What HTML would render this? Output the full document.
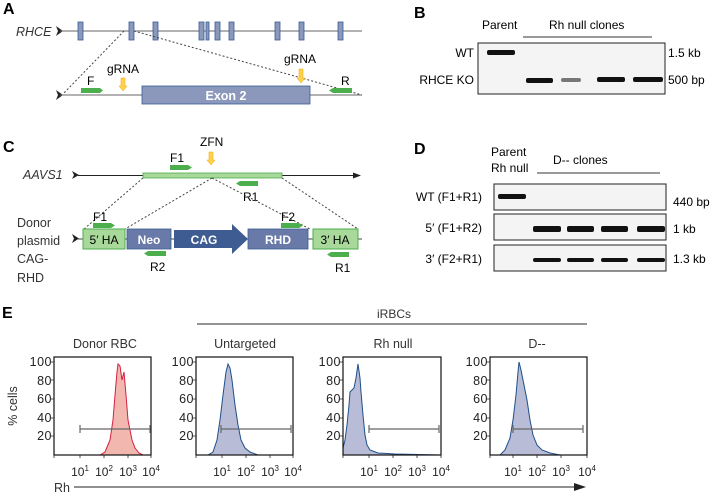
<!DOCTYPE html>
<html><head><meta charset="utf-8"><style>
body{margin:0;background:#fff}
svg{display:block;font-family:"Liberation Sans",sans-serif}
</style></head><body>
<svg width="715" height="495" viewBox="0 0 715 495" xmlns="http://www.w3.org/2000/svg">
<defs>
<marker id="ah" markerWidth="8" markerHeight="6" refX="7" refY="3" orient="auto"><path d="M0,0 L8,3 L0,6 z" fill="#222"/></marker>
</defs>
<!-- Panel A -->
<text x="3" y="14" font-size="16" font-weight="bold">A</text>
<text x="16" y="36" font-size="12.5" font-style="italic" fill="#333">RHCE</text>
<path d="M56,26 L63,31 L56,36 L58,31z" fill="#222"/>
<line x1="60" y1="31" x2="362" y2="31" stroke="#666" stroke-width="1"/>
<g fill="#8b98bc" stroke="#3a5c94" stroke-width="0.8">
<rect x="78" y="22" width="5" height="18"/><rect x="129" y="22" width="5" height="18"/><rect x="153" y="22" width="5" height="18"/><rect x="199" y="22" width="5" height="18"/><rect x="206" y="22" width="3" height="18"/><rect x="215" y="22" width="5" height="18"/><rect x="229" y="22" width="5" height="18"/><rect x="275" y="22" width="5" height="18"/><rect x="299" y="22" width="5" height="18"/><rect x="338" y="22" width="5" height="18"/>
</g>
<path d="M56,90 L63,95 L56,100 L58,95z" fill="#222"/>
<line x1="60" y1="95" x2="362" y2="95" stroke="#666"/>
<g stroke="#444" stroke-dasharray="2,2" fill="none"><line x1="124" y1="31" x2="63" y2="94"/><line x1="134" y1="31" x2="362" y2="95"/></g>
<rect x="142" y="86" width="168" height="18" fill="#8b98bc" stroke="#3a5c94" stroke-width="0.8"/>
<text x="226" y="100" font-size="12.5" font-weight="bold" fill="#fff" text-anchor="middle">Exon 2</text>
<path d="M81,88 L100,88 L103,90.5 L100,93 L81,93z" fill="#4cae4c"/>
<text x="87" y="85" font-size="12">F</text>
<path d="M352,88 L333,88 L329,90.5 L333,93 L352,93z" fill="#4cae4c"/>
<text x="341" y="85" font-size="12">R</text>
<text x="107" y="73" font-size="12">gRNA</text>
<text x="284" y="63" font-size="12">gRNA</text>
<path d="M121,78 L125,78 L125,86 L127,86 L123,91 L119,86 L121,86z" fill="#ffd24d" stroke="#f0a500" stroke-width="0.5"/>
<path d="M299,69 L303,69 L303,78 L305,78 L301,83 L297,78 L299,78z" fill="#ffd24d" stroke="#f0a500" stroke-width="0.5"/>

<!-- Panel B -->
<text x="414" y="18" font-size="16" font-weight="bold">B</text>
<text x="482" y="29" font-size="12">Parent</text>
<text x="549" y="29" font-size="12">Rh null clones</text>
<line x1="523" y1="37" x2="652" y2="37" stroke="#333"/>
<rect x="478" y="43" width="187" height="51" fill="#f4f4f4" stroke="#222" stroke-width="1"/>
<text x="474" y="57" font-size="12" text-anchor="end">WT</text>
<text x="474" y="84" font-size="12" text-anchor="end">RHCE KO</text>
<text x="668" y="57" font-size="12">1.5 kb</text>
<text x="668" y="84" font-size="12">500 bp</text>
<g fill="#111"><rect x="487" y="50" width="28" height="5" rx="2"/><rect x="526" y="78" width="27" height="5" rx="2"/><rect x="597" y="77" width="28" height="5" rx="2"/><rect x="633" y="77" width="30" height="5" rx="2"/></g>
<rect x="561" y="78" width="20" height="4" rx="2" fill="#777"/>

<!-- Panel C -->
<text x="3" y="152" font-size="16" font-weight="bold">C</text>
<text x="200" y="146" font-size="12">ZFN</text>
<path d="M209,152 L213,152 L213,160 L215,160 L211,165 L207,160 L209,160z" fill="#ffd24d" stroke="#f0a500" stroke-width="0.5"/>
<text x="23" y="179" font-size="12.5" font-style="italic" fill="#333">AAVS1</text>
<path d="M72,171 L79,175 L72,179 L74,175z" fill="#222"/>
<line x1="78" y1="175.5" x2="360" y2="175.5" stroke="#222" marker-end="url(#ah)"/>
<rect x="143" y="173" width="139" height="5" fill="#a8d89a" stroke="#4cae4c" stroke-width="0.8"/>
<path d="M170,165 L188,165 L192,167.5 L188,170 L170,170z" fill="#4cae4c"/>
<text x="170" y="162" font-size="12">F1</text>
<path d="M258,181 L240,181 L236,183.5 L240,186 L258,186z" fill="#4cae4c"/>
<text x="243" y="201" font-size="12">R1</text>
<g stroke="#444" stroke-dasharray="2,2" fill="none"><line x1="143" y1="178" x2="84" y2="229"/><line x1="212" y1="178" x2="125" y2="229"/><line x1="212" y1="178" x2="310" y2="229"/><line x1="282" y1="178" x2="358" y2="229"/></g>
<g font-size="12.5" fill="#333"><text x="17" y="227">Donor</text><text x="17" y="245">plasmid</text><text x="17" y="263">CAG-</text><text x="17" y="282">RHD</text></g>
<path d="M72,234 L79,238.5 L72,243 L74,238.5z" fill="#222"/>
<line x1="78" y1="239" x2="362" y2="239" stroke="#444"/>
<rect x="83" y="229" width="42" height="20" fill="#a8d89a" stroke="#4cae4c"/>
<text x="104" y="244" font-size="12" text-anchor="middle">5′ HA</text>
<rect x="127" y="229" width="44" height="20" fill="#6a7aa8" stroke="#3a5c94" stroke-width="0.8"/>
<text x="149" y="244" font-size="12" font-weight="bold" fill="#fff" text-anchor="middle">Neo</text>
<path d="M174,230 L232,230 L232,224 L248,239 L232,254 L232,248 L174,248z" fill="#3f5c92"/>
<text x="204" y="244" font-size="12" font-weight="bold" fill="#fff" text-anchor="middle">CAG</text>
<rect x="248" y="229" width="60" height="20" fill="#6a7aa8" stroke="#3a5c94" stroke-width="0.8"/>
<text x="278" y="244" font-size="12" font-weight="bold" fill="#fff" text-anchor="middle">RHD</text>
<rect x="313" y="229" width="45" height="20" fill="#a8d89a" stroke="#4cae4c"/>
<text x="335" y="244" font-size="12" text-anchor="middle">3′ HA</text>
<path d="M93,223 L111,223 L115,225.5 L111,228 L93,228z" fill="#4cae4c"/>
<text x="93" y="221" font-size="12">F1</text>
<path d="M281,223 L299,223 L303,225.5 L299,228 L281,228z" fill="#4cae4c"/>
<text x="281" y="221" font-size="12">F2</text>
<path d="M166,251 L148,251 L144,253.5 L148,256 L166,256z" fill="#4cae4c"/>
<text x="150" y="271" font-size="12">R2</text>
<path d="M349,252 L331,252 L327,254.5 L331,257 L349,257z" fill="#4cae4c"/>
<text x="335" y="272" font-size="12">R1</text>

<!-- Panel D -->
<text x="414" y="154" font-size="16" font-weight="bold">D</text>
<text x="491" y="156" font-size="12">Parent</text>
<text x="491" y="172" font-size="12">Rh null</text>
<text x="553" y="164" font-size="12">D-- clones</text>
<line x1="537" y1="173" x2="660" y2="173" stroke="#333"/>
<g fill="#f4f4f4" stroke="#222"><rect x="494" y="184" width="172" height="26"/><rect x="494" y="214" width="172" height="26"/><rect x="494" y="245" width="172" height="26"/></g>
<g font-size="12" text-anchor="end"><text x="482" y="201">WT (F1+R1)</text><text x="482" y="232">5′ (F1+R2)</text><text x="482" y="263">3′ (F2+R1)</text></g>
<g font-size="12"><text x="673" y="206">440 bp</text><text x="673" y="233">1 kb</text><text x="673" y="263">1.3 kb</text></g>
<g fill="#111"><rect x="498" y="194" width="28" height="5" rx="2"/>
<rect x="533" y="226" width="28" height="6" rx="2"/><rect x="567" y="226" width="27" height="6" rx="2"/><rect x="601" y="226" width="27" height="6" rx="2"/><rect x="637" y="226" width="28" height="6" rx="2"/>
<rect x="533" y="258" width="28" height="4" rx="2"/><rect x="567" y="258" width="27" height="4" rx="2"/><rect x="601" y="258" width="27" height="4" rx="2"/><rect x="637" y="258" width="28" height="4" rx="2"/></g>

<!-- Panel E -->
<text x="2" y="318" font-size="16" font-weight="bold">E</text>
<line x1="197" y1="324" x2="587" y2="324" stroke="#555" stroke-width="1.2"/>
<text x="377" y="318" font-size="12" fill="#333">iRBCs</text>
<g font-size="12.5" fill="#333" text-anchor="middle"><text x="105" y="348">Donor RBC</text><text x="245" y="348">Untargeted</text><text x="393" y="348">Rh null</text><text x="537" y="348">D--</text></g>
<text transform="translate(17,406) rotate(-90)" font-size="12.5" fill="#333" text-anchor="middle">% cells</text>
<g font-size="12.5" fill="#222" text-anchor="end" letter-spacing="0.5">
<text x="52" y="366">100</text><text x="52" y="385">80</text><text x="52" y="403">60</text><text x="52" y="422">40</text><text x="52" y="440">20</text>
<text x="194" y="366">100</text><text x="194" y="385">80</text><text x="194" y="403">60</text><text x="194" y="422">40</text><text x="194" y="440">20</text>
<text x="341" y="366">100</text><text x="341" y="385">80</text><text x="341" y="403">60</text><text x="341" y="422">40</text><text x="341" y="440">20</text>
<text x="488" y="366">100</text><text x="488" y="385">80</text><text x="488" y="403">60</text><text x="488" y="422">40</text><text x="488" y="440">20</text>
</g>
<!-- histograms -->
<path d="M54,455 L100,455 L105,452 L110,440 L113,420 L115,395 L117,372 L118,364 L120,366 L122,380 L124,372 L126,395 L128,420 L130,430 L132,440 L135,448 L139,453 L143,455 L151,455z" fill="#f2b8b0" stroke="#d22040" stroke-width="1"/>
<path d="M196,455 L208,455 L213,452 L217,440 L220,420 L223,395 L226,372 L228,364 L230,368 L232,380 L235,405 L238,425 L241,440 L245,448 L250,452 L258,455 L293,455z" fill="#b8bcd6" stroke="#1f4f8a" stroke-width="1"/>
<path d="M343,455 L343,448 L345,440 L347,425 L349,405 L350,392 L352,390 L354,388 L356,378 L358,364 L360,378 L361,392 L363,415 L365,435 L367,445 L370,450 L378,453 L395,454 L441,455z" fill="#b8bcd6" stroke="#1f4f8a" stroke-width="1"/>
<path d="M490,455 L500,455 L505,450 L510,438 L513,420 L516,395 L518,372 L519,362 L521,370 L524,385 L527,400 L530,420 L533,435 L537,445 L542,450 L550,453 L560,455 L587,455z" fill="#b8bcd6" stroke="#1f4f8a" stroke-width="1"/>
<g fill="none" stroke="#111" stroke-width="1.2"><rect x="54" y="357" width="97" height="98"/><rect x="196" y="357" width="97" height="98"/><rect x="343" y="357" width="98" height="98"/><rect x="490" y="357" width="97" height="98"/></g>
<g stroke="#666" stroke-width="1.2"><path d="M80,429 H150 M80,425 V433 M150,425 V433"/><path d="M221,429 H291 M221,425 V433 M291,425 V433"/><path d="M369,429 H439 M369,425 V433 M439,425 V433"/><path d="M513,429 H583 M513,425 V433 M583,425 V433"/></g>
<g stroke="#222" stroke-width="0.8">
<path d="M54,455 v3 M80,455 v3 M104,455 v3 M128,455 v3 M151,455 v3 M196,455 v3 M222,455 v3 M246,455 v3 M270,455 v3 M293,455 v3 M343,455 v3 M369,455 v3 M393,455 v3 M417,455 v3 M441,455 v3 M490,455 v3 M513,455 v3 M537,455 v3 M561,455 v3 M587,455 v3"/>
<path d="M54,362 h-3 M54,380 h-3 M54,399 h-3 M54,418 h-3 M54,436 h-3 M196,362 h-3 M196,380 h-3 M196,399 h-3 M196,418 h-3 M196,436 h-3 M343,362 h-3 M343,380 h-3 M343,399 h-3 M343,418 h-3 M343,436 h-3 M490,362 h-3 M490,380 h-3 M490,399 h-3 M490,418 h-3 M490,436 h-3"/>
</g>
<g font-size="12" fill="#222" text-anchor="middle">
<text x="80" y="476">10<tspan font-size="8" dy="-5">1</tspan></text><text x="104" y="476">10<tspan font-size="8" dy="-5">2</tspan></text><text x="128" y="476">10<tspan font-size="8" dy="-5">3</tspan></text><text x="151" y="476">10<tspan font-size="8" dy="-5">4</tspan></text>
<text x="222" y="476">10<tspan font-size="8" dy="-5">1</tspan></text><text x="246" y="476">10<tspan font-size="8" dy="-5">2</tspan></text><text x="270" y="476">10<tspan font-size="8" dy="-5">3</tspan></text><text x="293" y="476">10<tspan font-size="8" dy="-5">4</tspan></text>
<text x="369" y="476">10<tspan font-size="8" dy="-5">1</tspan></text><text x="393" y="476">10<tspan font-size="8" dy="-5">2</tspan></text><text x="417" y="476">10<tspan font-size="8" dy="-5">3</tspan></text><text x="441" y="476">10<tspan font-size="8" dy="-5">4</tspan></text>
<text x="513" y="476">10<tspan font-size="8" dy="-5">1</tspan></text><text x="537" y="476">10<tspan font-size="8" dy="-5">2</tspan></text><text x="561" y="476">10<tspan font-size="8" dy="-5">3</tspan></text><text x="587" y="476">10<tspan font-size="8" dy="-5">4</tspan></text>
</g>
<text x="54" y="492" font-size="12.5" fill="#333">Rh</text>
<line x1="74" y1="487" x2="580" y2="487" stroke="#222"/>
<path d="M574,483 L586,487 L574,491z" fill="#222"/>
</svg>
</body></html>
